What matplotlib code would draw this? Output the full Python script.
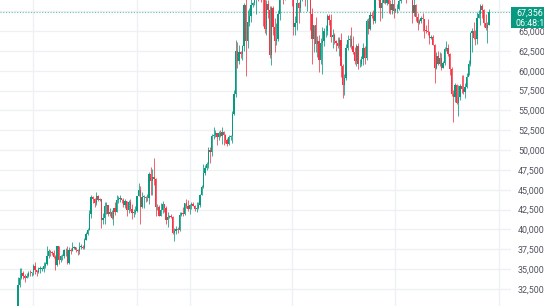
import matplotlib
matplotlib.use("Agg")
import matplotlib.pyplot as plt
import matplotlib.dates as mdates
from matplotlib.patches import Rectangle
import numpy as np
import pandas as pd

# Daily BTC candles, 2023-10-23 .. 2024-07-26
start_date = "2023-10-23"
first_open = 30000
closes = [
    33050, 33900, 34500, 34150, 33900, 34100, 34550, 34500, 34650,
    35400, 34950, 34700, 35050, 35050, 35050, 35450, 35650, 36700, 37300, 37150, 37050, 36500, 35550, 37900,
    36150, 36600, 36600, 37400, 37450, 35800, 37450, 37300, 37700, 37800, 37450, 37250, 37850, 37850, 37700,
    38700, 39450, 39950, 41950, 44100, 43800, 43300, 44200, 43750, 43800, 41250, 41500, 42900, 43050, 41950,
    42250, 41400, 42650, 42250, 43700, 43900, 43950, 43700, 43050, 43600, 42500, 43450, 42600, 42100, 42150, 42300,
    44200, 44950, 42850, 44150, 44150, 43950, 43950, 46950, 46100, 46650, 46350, 42800, 42850, 41750, 42500,
    43150, 42750, 41250, 41600, 41700, 41550, 39500, 39850, 40100, 39950, 41800, 42100, 42000, 43300, 42950, 42550,
    43100, 43200, 43000, 42600, 42700, 43100, 44350, 45300, 47150, 47750, 48300, 49950, 49700, 51800, 51950,
    52150, 51650, 52150, 51800, 52250, 51850, 51300, 50750, 51600, 51750, 54500, 57050, 62500, 61200,
    62400, 62050, 63150, 68300, 63800, 66100, 66950, 68300, 68500, 69000, 72100, 71450, 73100, 71400, 69450,
    65300, 68400, 67600, 61950, 67850, 65500, 63800, 64050, 67200, 70000, 69950, 69450, 70750, 69900, 69650, 71300,
    69650, 65450, 65950, 68500, 67850, 68900, 69350, 71600, 69150, 70600, 70050, 67150, 63950, 65750, 63400,
    63800, 61300, 63500, 63800, 64950, 64950, 66850, 66400, 64300, 64500, 63750, 63450, 63100, 63850, 60650,
    58250, 59100, 62900, 63850, 64050, 63150, 62300, 61200, 63100, 60800, 60800, 61450, 62900, 61550, 66250,
    65250, 67050, 66950, 66250, 71450, 70150, 69150, 67950, 68550, 69300, 68500, 69400, 68350, 67600, 68350, 67500,
    67750, 67750, 68800, 70550, 71100, 70800, 69350, 69300, 69650, 69500, 67300, 68250, 66750, 66000, 66200,
    66650, 66500, 65150, 64950, 64850, 64100, 64250, 63200, 60300, 61800, 60850, 61600, 60350, 60950, 62700,
    62900, 62100, 60200, 57050, 56650, 58250, 55900, 56700, 58050, 57700, 57350, 57900, 59200, 60800, 64750,
    65050, 64100, 63950, 66700, 67150, 68150, 67600, 65950, 65400, 65800, 67356,
]
highs = [
    34000, 35200, 35100, 34800, 34450, 34500, 34750, 34850, 34700,
    35600, 35950, 34950, 35250, 35400, 35300, 35900, 35950, 37950, 37500, 37400, 37250, 37400, 36750, 37950,
    37950, 36800, 36850, 37500, 37700, 37900, 37850, 37650, 38400, 37900, 37800, 37550, 38400, 38150, 38100,
    38950, 39650, 40150, 42400, 44400, 44250, 44000, 44700, 44350, 44000, 43800, 42100, 43400, 43400, 43100,
    42700, 42450, 42750, 43400, 44300, 44250, 44400, 43850, 43950, 43800, 43600, 43700, 43800, 43150, 42600, 42900,
    44200, 45900, 45500, 44750, 44300, 44200, 44500, 47200, 47900, 47650, 48950, 46500, 43250, 43050, 43300,
    43550, 43200, 42900, 42150, 41850, 41900, 41650, 40150, 40500, 40300, 42200, 42200, 42800, 43300, 43850, 43750,
    43250, 43450, 43400, 43100, 43500, 43400, 44500, 45600, 48200, 48150, 48550, 50350, 50400, 52000, 52850,
    52550, 52200, 52350, 52500, 52950, 52350, 52050, 51550, 51950, 51950, 54900, 57550, 63900, 63650,
    63200, 62450, 63250, 68500, 69100, 67650, 67950, 70150, 68650, 70000, 72800, 72950, 73650, 73800, 72400,
    70000, 68900, 68950, 68100, 68100, 68200, 66650, 65950, 67650, 71100, 71550, 71750, 71600, 70900, 70300, 71350,
    71300, 69650, 66950, 69300, 68700, 69000, 70300, 72700, 71750, 71150, 71250, 71200, 67900, 65800, 66800,
    64350, 64500, 64100, 65450, 65400, 65700, 67200, 67200, 67100, 65300, 64800, 63900, 64300, 64200, 64700,
    60850, 59600, 63300, 64450, 64500, 65500, 64400, 62950, 63400, 63450, 61450, 61800, 63450, 63100, 66450,
    66700, 67450, 67400, 67700, 71500, 71950, 70650, 70100, 69200, 69550, 69500, 70600, 69500, 68900, 69500, 69000,
    67850, 68400, 70250, 71050, 71750, 71650, 71950, 69550, 69900, 70150, 69550, 69950, 68350, 67300, 66450,
    66950, 67250, 66550, 65700, 66450, 65050, 64550, 64500, 63350, 62300, 62500, 62350, 62200, 61200, 63000,
    63800, 63300, 62250, 60450, 57600, 58450, 58300, 58150, 58300, 59400, 59450, 58500, 59750, 61350, 64850,
    65350, 66100, 65100, 67400, 67600, 68350, 68450, 67800, 67100, 66150, 67800,
]
lows = [
    29900, 32800, 33700, 33800, 33400, 33850, 34000, 34100, 34100,
    34300, 34350, 34100, 34550, 34550, 34750, 34600, 35200, 35550, 36350, 36700, 36750, 36350, 34950, 35400,
    35600, 35900, 36200, 36400, 36700, 35700, 35700, 36900, 37300, 37600, 37200, 36750, 36900, 37600, 37500,
    37600, 38650, 39300, 39950, 41400, 43350, 42800, 43100, 43600, 43600, 40200, 40700, 40650, 41900, 41700,
    41700, 41300, 40550, 41850, 42200, 43350, 43450, 43300, 42800, 42750, 41650, 42100, 42300, 41300, 41550, 41950,
    42200, 44200, 40750, 42650, 42650, 43400, 43600, 43200, 44350, 44300, 45600, 41750, 42450, 41700, 41700,
    42050, 42200, 40650, 40300, 41450, 41500, 39450, 38550, 39450, 39550, 39800, 41650, 41650, 41800, 42700, 42300,
    41900, 42600, 42900, 42300, 42250, 42600, 42800, 44350, 45250, 46850, 47550, 47750, 48350, 49250, 51350,
    51600, 50650, 51250, 51600, 50750, 50700, 50950, 50550, 50650, 51300, 50950, 54450, 56700, 60400,
    60800, 61600, 61350, 62450, 59300, 62850, 65600, 66150, 68000, 68250, 67200, 68800, 71350, 68600, 65600,
    64800, 64550, 66600, 61550, 60750, 64550, 62300, 63250, 63800, 66400, 69300, 68400, 68950, 69100, 69550, 69600,
    68200, 64550, 64500, 65100, 66000, 67450, 68800, 69100, 68200, 67500, 69550, 65100, 60800, 62300, 62300,
    61700, 59800, 60850, 59600, 63150, 64300, 64550, 65800, 63600, 62800, 63300, 62500, 62800, 61800, 59200,
    56550, 56950, 58800, 62600, 62950, 62750, 62150, 60850, 60650, 60200, 60500, 60650, 60750, 60900, 61350,
    64600, 65100, 66600, 65850, 66050, 69200, 68850, 66300, 66600, 68550, 68450, 68250, 67300, 67150, 67150, 66650,
    67450, 67300, 67650, 68550, 70400, 70150, 68500, 69150, 69100, 69200, 66050, 66900, 66300, 65100, 65850,
    66050, 65000, 64100, 64700, 64550, 63400, 63950, 63200, 58400, 60250, 60700, 60600, 60050, 60350, 60750,
    62500, 61800, 59450, 56850, 53500, 56050, 55850, 54300, 56300, 57200, 57100, 56600, 57800, 59450, 60650,
    62400, 63950, 63250, 63300, 66650, 65750, 66600, 65450, 65100, 63450, 65750,
]
# each daily candle opens at the previous close
opens = [first_open] + closes[:-1]

price_ticks = list(range(32500, 67501, 2500))
month_lines = ["2023-11-01", "2024-01-01", "2024-02-01", "2024-04-01", "2024-06-01", "2024-08-01"]
last_price = closes[-1]
last_price_text = "67,356"
countdown_text = "06:48:12"

UP = "#089981"
DOWN = "#F23645"

W, H = 544, 306
fig = plt.figure(figsize=(W / 100, H / 100), dpi=100)
fig.patch.set_facecolor("white")
ax = fig.add_axes([0, 0, 511 / W, 1])
ax.set_facecolor("white")

dates = pd.date_range(start_date, periods=len(closes), freq="D")
x = mdates.date2num(dates)
o = np.array(opens, dtype=float)
c = np.array(closes, dtype=float)
hi = np.array(highs, dtype=float)
lo = np.array(lows, dtype=float)
cols = np.where(c >= o, UP, DOWN)

ax.vlines(x, lo, hi, colors=cols, linewidth=0.55, zorder=3)
ax.bar(x, np.maximum(np.abs(c - o), 70), bottom=np.minimum(o, c), width=0.75,
       color=cols, linewidth=0, zorder=4)

x0 = x[0]
px_per_day = 1.7
ax.set_xlim(x0 - 18 / px_per_day, x0 + (511 - 18) / px_per_day)
ax.set_ylim(30362, 68905)

for s in ax.spines.values():
    s.set_visible(False)

ax.set_xticks(mdates.date2num(pd.to_datetime(month_lines)))
ax.tick_params(axis="x", length=0, labelbottom=False)
ax.set_yticks(price_ticks)
ax.set_yticklabels([f"{v:,}" if v < 67500 else "" for v in price_ticks])
ax.yaxis.tick_right()
ax.tick_params(axis="y", length=0, pad=5, labelsize=6.4, labelcolor="#50535e")
for lab in ax.get_yticklabels():
    lab.set_fontfamily("Roboto")
ax.grid(True, color="#eef0f3", linewidth=1, zorder=0)
ax.set_axisbelow(True)

ax.axhline(last_price, color=UP, linewidth=0.8, linestyle=(0, (1, 1.5)), alpha=0.6, zorder=2)

box = Rectangle((511 / W, 1 - 28 / H), 40 / W, 21 / H, transform=fig.transFigure,
                facecolor=UP, edgecolor="none", zorder=5)
fig.add_artist(box)
fig.text(516 / W, 1 - 13 / H, last_price_text, color="white", fontsize=6.4, family="Roboto",
         ha="left", va="center", zorder=6)
fig.text(516 / W, 1 - 23 / H, countdown_text, color="white", fontsize=6.4, family="Roboto",
         ha="left", va="center", zorder=6)

fig.savefig("out.png", dpi=100)
